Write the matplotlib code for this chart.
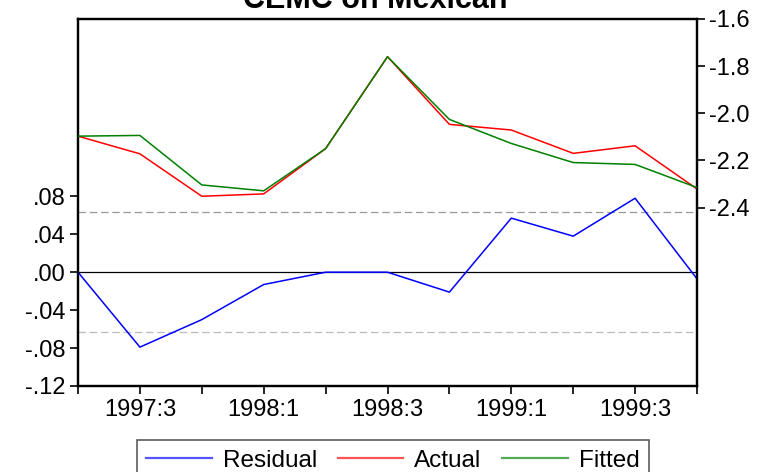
import matplotlib
matplotlib.use("Agg")
import matplotlib.pyplot as plt
import numpy as np

plt.rcParams['font.family'] = ['Liberation Sans', 'DejaVu Sans']

quarters = ["1997:2", "1997:3", "1997:4", "1998:1", "1998:2", "1998:3",
            "1998:4", "1999:1", "1999:2", "1999:3", "1999:4"]
actual = [-2.097, -2.172, -2.352, -2.342, -2.150, -1.760, -2.047, -2.071, -2.170, -2.138, -2.321]
fitted = [-2.097, -2.094, -2.304, -2.329, -2.150, -1.760, -2.026, -2.128, -2.209, -2.217, -2.315]
residual = [0.000, -0.079, -0.050, -0.013, 0.000, 0.000, -0.021, 0.057, 0.038, 0.078, -0.007]
se_band = 0.0635
left_ticks = [-0.12, -0.08, -0.04, 0.00, 0.04, 0.08]
right_ticks = [-2.4, -2.2, -2.0, -1.8, -1.6]
title = "CEMC on Mexican"

W, H = 767, 472
fig = plt.figure(figsize=(W / 100, H / 100), dpi=100)
ax = fig.add_axes([78 / W, 1 - 386 / H, (697 - 78) / W, (386 - 19) / H])
ax2 = ax.twinx()

x = np.arange(len(quarters))
fs = 17

ax.axhline(0, color='black', lw=0.9, zorder=1)
ax.axhline(se_band, color='#999999', lw=0.9, ls=(0, (6, 3)), zorder=1)
ax.axhline(-se_band, color='#bbbbbb', lw=0.9, ls=(0, (6, 3)), zorder=1)
l1, = ax.plot(x, residual, color='#0000ff', lw=1.1, zorder=3)
l2, = ax2.plot(x, actual, color='#ff0000', lw=1.1, zorder=2)
l3, = ax2.plot(x, fitted, color='#008000', lw=1.1, zorder=3)

ax.set_xlim(0, len(quarters) - 1)
ax.set_ylim(-0.12, 0.267)
ax2.set_ylim(-3.157, -1.6)

ax.set_yticks(left_ticks)
ax.set_yticklabels([("-" if v < 0 else "") + ("%.2f" % abs(v))[1:] for v in left_ticks])
ax2.set_yticks(right_ticks)
ax2.set_yticklabels(["%.1f" % v for v in right_ticks])

ax.set_xticks(x)
ax.set_xticklabels([q if i % 2 == 1 else "" for i, q in enumerate(quarters)])

for a in (ax, ax2):
    for s in a.spines.values():
        s.set_linewidth(1.6)
        s.set_color('black')
ax.tick_params(axis='both', direction='out', length=6, width=1.2, labelsize=fs, pad=3)
ax2.tick_params(axis='y', direction='out', length=6, width=1.2, labelsize=fs, pad=3)

fig.text(375 / W, 1 - 8 / H, title, ha='center', va='baseline', fontsize=22, fontweight='bold')

leg = fig.legend([l1, l2, l3], ["Residual", "Actual", "Fitted"], loc='upper center',
                 bbox_to_anchor=(393 / W, 1 - 440 / H), ncol=3, frameon=True, fancybox=False,
                 fontsize=17.5, handlelength=2.7, columnspacing=0.85, handletextpad=0.45,
                 borderpad=0.4, borderaxespad=0.0)
leg.get_frame().set_edgecolor('#333333')
leg.get_frame().set_linewidth(1.2)
for h, c in zip(leg.get_lines(), ['#5555ff', '#ff5555', '#55aa55']):
    h.set_color(c)
    h.set_linewidth(1.6)

fig.savefig("out.png", dpi=100)
